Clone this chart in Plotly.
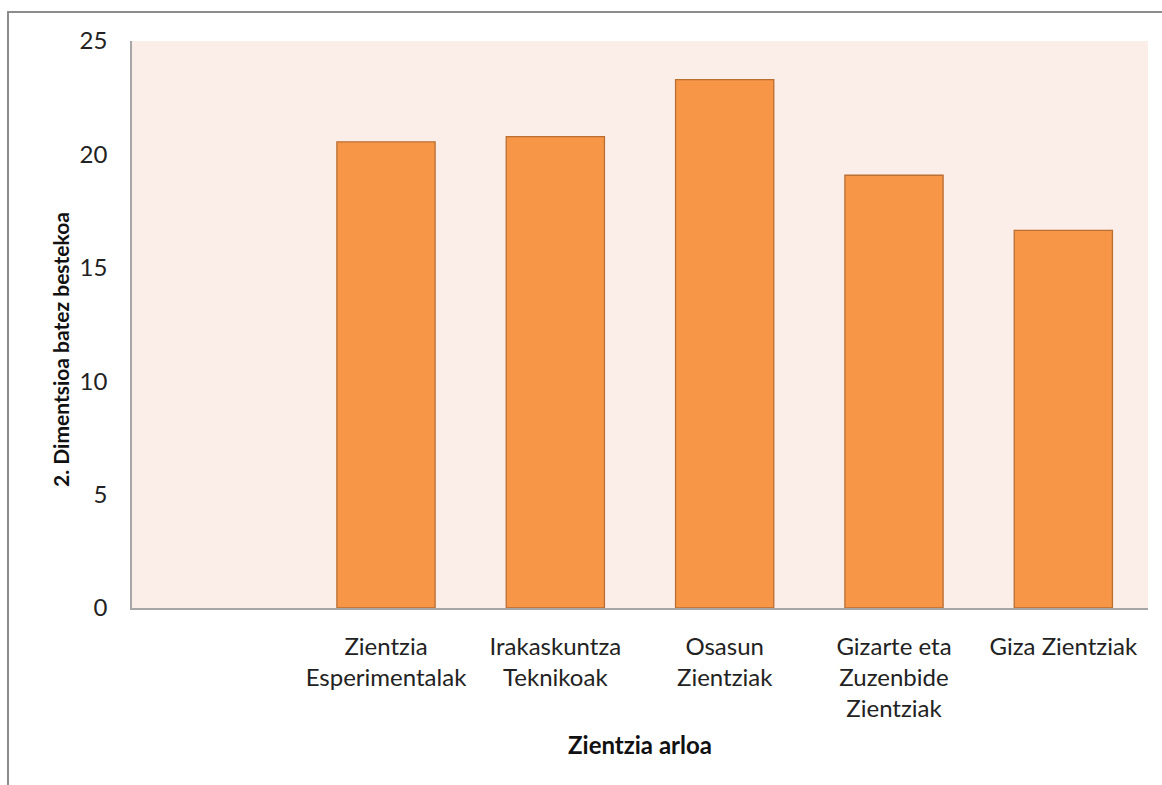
import plotly.graph_objects as go

categories = [" ", "Zientzia<br>Esperimentalak", "Irakaskuntza<br>Teknikoak", "Osasun<br>Zientziak",
              "Gizarte eta<br>Zuzenbide<br>Zientziak", "Giza Zientziak"]
values = [None, 20.55, 20.78, 23.3, 19.08, 16.65]
y_ticks = [0, 5, 10, 15, 20, 25]

L, R, T, B = 132, 14, 41, 177
W, H = 1162, 785
pw, ph = W - L - R, H - T - B

fig = go.Figure(go.Bar(
    x=categories, y=values, width=0.58,
    marker=dict(color="#F79646", line=dict(color="#BA6E32", width=1.3)),
    hoverinfo="x+y",
))

font = "Lato, Carlito, sans-serif"
fig.update_layout(
    width=W, height=H,
    margin=dict(l=L, r=R, t=T, b=B),
    paper_bgcolor="white", plot_bgcolor="#FBEDE8",
    showlegend=False,
    font=dict(family=font, size=24, color="#222"),
    xaxis=dict(
        type="category", showgrid=False, showline=True, linecolor="#A6A6A6", linewidth=1.5,
        ticks="", tickfont=dict(size=24, color="#222"), ticklabelstandoff=16,
        title=dict(text="<b>Zientzia arloa</b>", font=dict(size=24, color="#111"), standoff=16),
        fixedrange=True,
    ),
    yaxis=dict(
        range=[0, 25], tickvals=y_ticks, showgrid=False, zeroline=False, showline=True,
        linecolor="#A6A6A6", linewidth=1.5, ticks="", tickfont=dict(size=24, color="#222"),
        ticklabelstandoff=18,
        fixedrange=True,
    ),
    bargap=0.42,
)

fig.add_annotation(text="<b>2. Dimentsioa batez bestekoa</b>", textangle=-90,
                   xref="paper", yref="paper", x=(60 - L) / pw, y=(H - B - 350) / ph,
                   xanchor="center", yanchor="middle", showarrow=False,
                   font=dict(size=21, color="#111", family=font))

fig.add_shape(type="rect", xref="paper", yref="paper",
              x0=(8 - L) / pw, x1=(1175 - L) / pw,
              y0=-0.35, y1=(H - B - 12) / ph,
              line=dict(color="#8C8C8C", width=2), fillcolor="rgba(0,0,0,0)", layer="above")

fig.write_html("out.html", config={"displayModeBar": False},
               post_script="document.body.style.margin='0';document.body.style.overflow='hidden';")
